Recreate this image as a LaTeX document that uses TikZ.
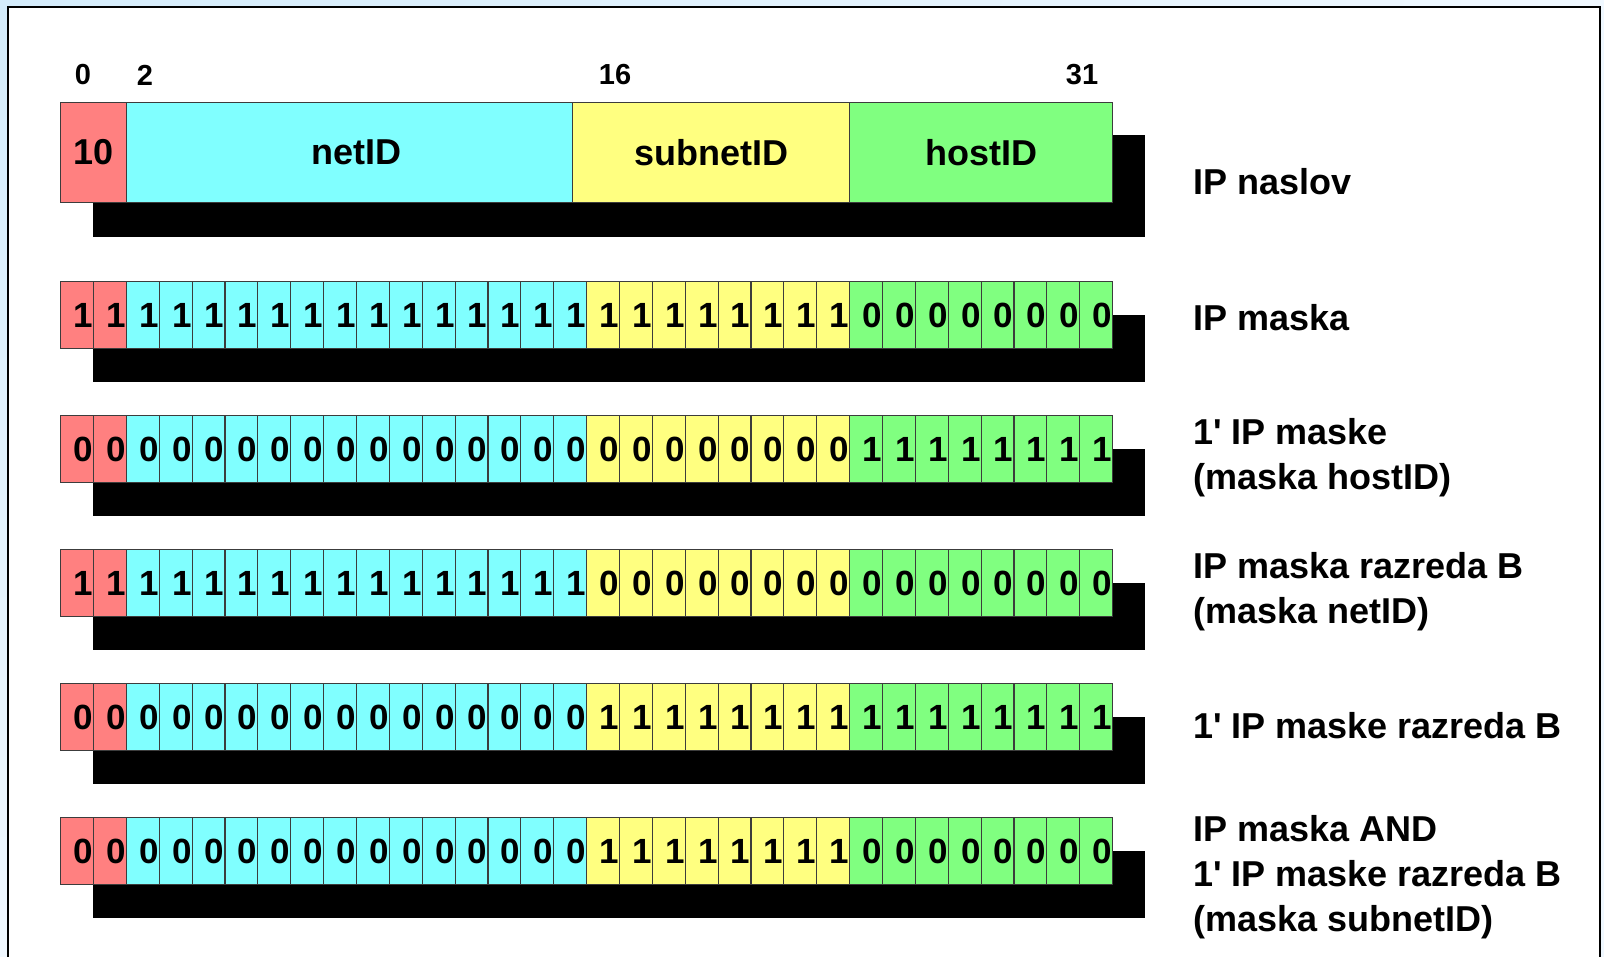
\documentclass[tikz,border=0pt]{standalone}
\usepackage{fontspec}
\setmainfont{Liberation Sans}
\usetikzlibrary{calc,shadings}

\definecolor{bgblue}{RGB}{212,236,251}
\definecolor{bglight}{RGB}{240,248,255}
\definecolor{cred}{RGB}{255,128,128}
\definecolor{ccyan}{RGB}{128,255,255}
\definecolor{cyellow}{RGB}{255,255,128}
\definecolor{cgreen}{RGB}{128,255,128}
\definecolor{edge}{RGB}{60,60,60}

\tikzset{
  field/.style={draw=edge, line width=1.2pt, inner sep=0pt, anchor=north west,
    minimum height=100pt, font=\fontsize{36}{40}\selectfont\bfseries},
  bitcell/.style={draw=edge, line width=1.2pt, anchor=north west,
    inner xsep=0.6pt, inner ysep=0pt, text width=31.675pt, align=right,
    minimum height=67pt, font=\fontsize{35}{40}\selectfont\bfseries},
  shadowbox/.style={fill=black},
  bitnum/.style={font=\fontsize{29}{32}\selectfont\bfseries, inner sep=0pt},
  rowlabel/.style={anchor=west, align=left, inner sep=0pt,
    font=\fontsize{36}{45}\selectfont\bfseries},
}

\newcommand{\one}{1\textquotesingle}

% one 32-bit row: #1 = row index, #2 = top y, #3 = bit string
\newcommand{\bitrow}[3]{%
  \fill[shadowbox] (93,#2+34) rectangle (1145,#2+67+34);
  \foreach \b [count=\i from 0] in {#3} {
    \pgfmathsetmacro{\xl}{60+\i*32.875}
    \ifnum\i<2 \def\cc{cred}\else\ifnum\i<16 \def\cc{ccyan}\else
      \ifnum\i<24 \def\cc{cyellow}\else \def\cc{cgreen}\fi\fi\fi
    \node[bitcell, fill=\cc] (r#1c\i) at (\xl,#2) {\b};
  }%
}

\begin{document}
\begin{tikzpicture}[x=1pt,y=-1pt]
  \useasboundingbox (0,0) rectangle (1604,956);
  % page background and frame
  \shade[upper left=bgblue, upper right=bglight, lower left=bglight, lower right=bglight]
    (0,0) rectangle (1604,956);
  \filldraw[fill=white, draw=black, line width=2.5pt] (8,7) rectangle (1600,975);

  % bit position numbers
  \node[bitnum] (n0)  at (83,75)   {0};
  \node[bitnum] (n2)  at (145,75)  {2};
  \node[bitnum] (n16) at (615,75)  {16};
  \node[bitnum] (n31) at (1082,75) {31};

  % address fields
  \fill[shadowbox] (93,135) rectangle (1145,237);
  \node[field, fill=cred,    minimum width=65.75pt]  (cls)  at (60,102)     {10};
  \node[field, fill=ccyan,   minimum width=446.25pt] (net)  at (125.75,102) {\hspace*{14pt}netID};
  \node[field, fill=cyellow, minimum width=277pt]    (sub)  at (572,102)    {subnetID};
  \node[field, fill=cgreen,  minimum width=263pt]    (host) at (849,102)    {hostID};

  % bit rows
  \bitrow{a}{281}{1,1,1,1,1,1,1,1,1,1,1,1,1,1,1,1,1,1,1,1,1,1,1,1,0,0,0,0,0,0,0,0}
  \bitrow{b}{415}{0,0,0,0,0,0,0,0,0,0,0,0,0,0,0,0,0,0,0,0,0,0,0,0,1,1,1,1,1,1,1,1}
  \bitrow{c}{549}{1,1,1,1,1,1,1,1,1,1,1,1,1,1,1,1,0,0,0,0,0,0,0,0,0,0,0,0,0,0,0,0}
  \bitrow{d}{683}{0,0,0,0,0,0,0,0,0,0,0,0,0,0,0,0,1,1,1,1,1,1,1,1,1,1,1,1,1,1,1,1}
  \bitrow{e}{817}{0,0,0,0,0,0,0,0,0,0,0,0,0,0,0,0,1,1,1,1,1,1,1,1,0,0,0,0,0,0,0,0}

  % row descriptions
  \node[rowlabel] (la) at (1193,182)   {IP naslov};
  \node[rowlabel] (lb) at (1193,318)   {IP maska};
  \node[rowlabel] (lc) at (1193,458)   {\one{} IP maske\\(maska hostID)};
  \node[rowlabel] (ld) at (1193,592)   {IP maska razreda B\\(maska netID)};
  \node[rowlabel] (le) at (1193,726)   {\one{} IP maske razreda B};
  \node[rowlabel] (lf) at (1193,877)   {IP maska AND\\\one{} IP maske razreda B\\(maska subnetID)};
\end{tikzpicture}
\end{document}
